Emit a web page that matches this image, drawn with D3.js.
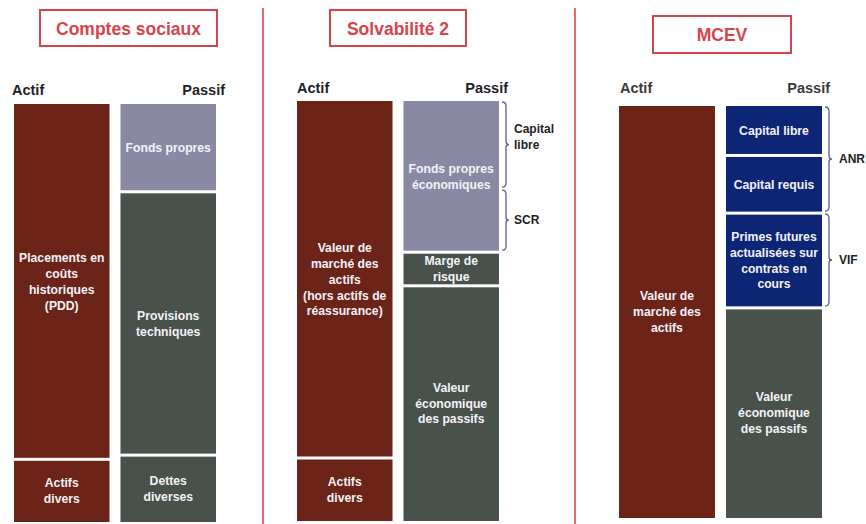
<!DOCTYPE html>
<html><head><meta charset="utf-8">
<script src="https://cdn.jsdelivr.net/npm/d3@7"></script>
<style>html,body{margin:0;padding:0;background:#fff;}svg{display:block;font-family:"Liberation Sans",Arial,sans-serif;}</style>
</head><body>
<svg id="chart" width="866" height="524"></svg>
<script>
// ---------- DATA ----------
const panelTitles = ["Comptes sociaux", "Solvabilité 2", "MCEV"];
const columns = ["Actif", "Passif"];

// Comptes sociaux
const csActifLabels = ["Placements en\ncoûts\nhistoriques\n(PDD)", "Actifs\ndivers"];
const csActifValues = [85, 15];
const csActifKinds = ["asset", "asset"];
const csPassifLabels = ["Fonds propres", "Provisions\ntechniques", "Dettes\ndiverses"];
const csPassifValues = [21, 63, 16];
const csPassifKinds = ["equity", "liab", "liab"];

// Solvabilité 2
const s2ActifLabels = ["Valeur de\nmarché des\nactifs\n(hors actifs de\nréassurance)", "Actifs\ndivers"];
const s2ActifValues = [85, 15];
const s2ActifKinds = ["asset", "asset"];
const s2PassifLabels = ["Fonds propres\néconomiques", "Marge de\nrisque", "Valeur\néconomique\ndes passifs"];
const s2PassifValues = [36, 8, 56];
const s2PassifKinds = ["equity", "liab", "liab"];
const s2BraceLabels = ["Capital\nlibre", "SCR"];
const s2BraceValues = [21, 15];

// MCEV
const mcActifLabels = ["Valeur de\nmarché des\nactifs"];
const mcActifValues = [100];
const mcActifKinds = ["asset"];
const mcPassifLabels = ["Capital libre", "Capital requis", "Primes futures\nactualisées sur\ncontrats en\ncours", "Valeur\néconomique\ndes passifs"];
const mcPassifValues = [12, 14, 23, 51];
const mcPassifKinds = ["navy", "navy", "navy", "liab"];
const mcBraceLabels = ["ANR", "VIF"];
const mcBraceValues = [26, 23];

// ---------- STYLE / LAYOUT ----------
const colors = {asset: "#6b2417", equity: "#8a89a3", liab: "#48524b", navy: "#0c2675"};
const red = "#d9434a";

const layout = [
  {box: [40, 10, 177, 36], title: 29, barX: [14, 216], barY: [104, 522], headerY: 95, actifX: 12, passifX: 225, headerColor: "#1f1f2a", braceOff: 9},
  {box: [330, 10, 136, 36], title: 29, barX: [297, 499], barY: [101, 521], headerY: 93, actifX: 297, passifX: 508, headerColor: "#1f1f2a", braceOff: 8},
  {box: [653, 16, 138, 37], title: 35, barX: [619, 822], barY: [106, 518], headerY: 93, actifX: 620, passifX: 830, headerColor: "#3a3a3a", braceOff: 10}
];
const separators = [263, 575];

const panels = [
  {actif: [csActifLabels, csActifValues, csActifKinds], passif: [csPassifLabels, csPassifValues, csPassifKinds], braces: null},
  {actif: [s2ActifLabels, s2ActifValues, s2ActifKinds], passif: [s2PassifLabels, s2PassifValues, s2PassifKinds], braces: [s2BraceLabels, s2BraceValues]},
  {actif: [mcActifLabels, mcActifValues, mcActifKinds], passif: [mcPassifLabels, mcPassifValues, mcPassifKinds], braces: [mcBraceLabels, mcBraceValues]}
];

const svg = d3.select("#chart");

// separators
svg.selectAll("line.sep").data(separators).join("line")
  .attr("x1", d => d).attr("x2", d => d).attr("y1", 8).attr("y2", 524)
  .attr("stroke", "#e26a6a").attr("stroke-width", 2);

function stack(labels, values, kinds) {
  let acc = 0;
  return values.map((v, i) => { const s = acc; acc += v; return {label: labels[i], kind: kinds ? kinds[i] : "", y0: s, y1: acc}; });
}

const lineH = 15.8;

panels.forEach((p, pi) => {
  const L = layout[pi];
  const g = svg.append("g");

  // title box
  g.append("rect").attr("x", L.box[0]).attr("y", L.box[1]).attr("width", L.box[2]).attr("height", L.box[3])
    .attr("fill", "#fff").attr("stroke", red).attr("stroke-width", 2);
  g.append("text").attr("x", L.box[0] + L.box[2] / 2).attr("y", L.title).attr("dy", "0.35em")
    .attr("text-anchor", "middle").attr("font-weight", "bold").attr("font-size", 17.5)
    .attr("fill", red).text(panelTitles[pi]);

  const x = d3.scaleBand().domain(columns).range(L.barX).paddingInner(0.103);
  const y = d3.scaleLinear().domain([0, 100]).range(L.barY);

  // headers
  g.append("text").attr("x", L.actifX).attr("y", L.headerY).attr("font-weight", "bold").attr("font-size", 14.5)
    .attr("fill", L.headerColor).text(columns[0]);
  g.append("text").attr("x", L.passifX).attr("y", L.headerY).attr("text-anchor", "end").attr("font-weight", "bold").attr("font-size", 14.5)
    .attr("fill", L.headerColor).text(columns[1]);

  const gap = 3;
  [["Actif", p.actif], ["Passif", p.passif]].forEach(([col, arr], ci) => {
    const segs = stack(arr[0], arr[1], arr[2]);
    const n = segs.length;
    const sg = g.selectAll(null).data(segs).join("g");
    const clipId = (i) => `clip-${pi}-${ci}-${i}`;
    sg.append("clipPath").attr("id", (d, i) => clipId(i))
      .append("rect")
      .attr("x", x(col)).attr("width", x.bandwidth())
      .attr("y", (d, i) => y(d.y0) + (i > 0 ? gap / 2 : 0))
      .attr("height", (d, i) => y(d.y1) - y(d.y0) - (i > 0 ? gap / 2 : 0) - (i < n - 1 ? gap / 2 : 0));
    sg.append("rect")
      .attr("x", x(col)).attr("width", x.bandwidth())
      .attr("y", (d, i) => y(d.y0) + (i > 0 ? gap / 2 : 0))
      .attr("height", (d, i) => y(d.y1) - y(d.y0) - (i > 0 ? gap / 2 : 0) - (i < n - 1 ? gap / 2 : 0))
      .attr("fill", d => colors[d.kind]);
    sg.each(function (d, i) {
      const lines = d.label.split("\n");
      const cy = (y(d.y0) + y(d.y1)) / 2;
      const t = d3.select(this).append("text")
        .attr("clip-path", `url(#${clipId(i)})`)
        .attr("text-anchor", "middle").attr("font-weight", "bold").attr("font-size", 12.2)
        .attr("fill", "#f4f2f8");
      lines.forEach((ln, li) => {
        t.append("tspan").attr("x", x(col) + x.bandwidth() / 2)
          .attr("y", cy + (li - (lines.length - 1) / 2) * lineH).attr("dy", "0.35em").text(ln);
      });
    });
  });

  // braces
  if (p.braces) {
    const bs = stack(p.braces[0], p.braces[1]);
    const bx0 = x("Passif") + x.bandwidth() + 3;
    const bx1 = bx0 + 4;
    bs.forEach(d => {
      const t0 = y(d.y0) + 1, t1 = y(d.y1) - 2, m = (t0 + t1) / 2;
      const path = `M${bx0},${t0} Q${bx1},${t0} ${bx1},${t0 + 4} L${bx1},${m - 3} Q${bx1},${m} ${bx1 + 3},${m} Q${bx1},${m} ${bx1},${m + 3} L${bx1},${t1 - 4} Q${bx1},${t1} ${bx0},${t1}`;
      g.append("path").attr("d", path).attr("fill", "none").attr("stroke", "#5b5f8c").attr("stroke-width", 1.3);
      const lines = d.label.split("\n");
      const tx = g.append("text").attr("font-weight", "bold").attr("font-size", 12).attr("fill", "#222");
      lines.forEach((ln, li) => {
        tx.append("tspan").attr("x", bx1 + L.braceOff).attr("y", m + (li - (lines.length - 1) / 2) * lineH - (lines.length > 1 ? 8 : 0))
          .attr("dy", "0.35em").text(ln);
      });
    });
  }
});
</script>
</body></html>
